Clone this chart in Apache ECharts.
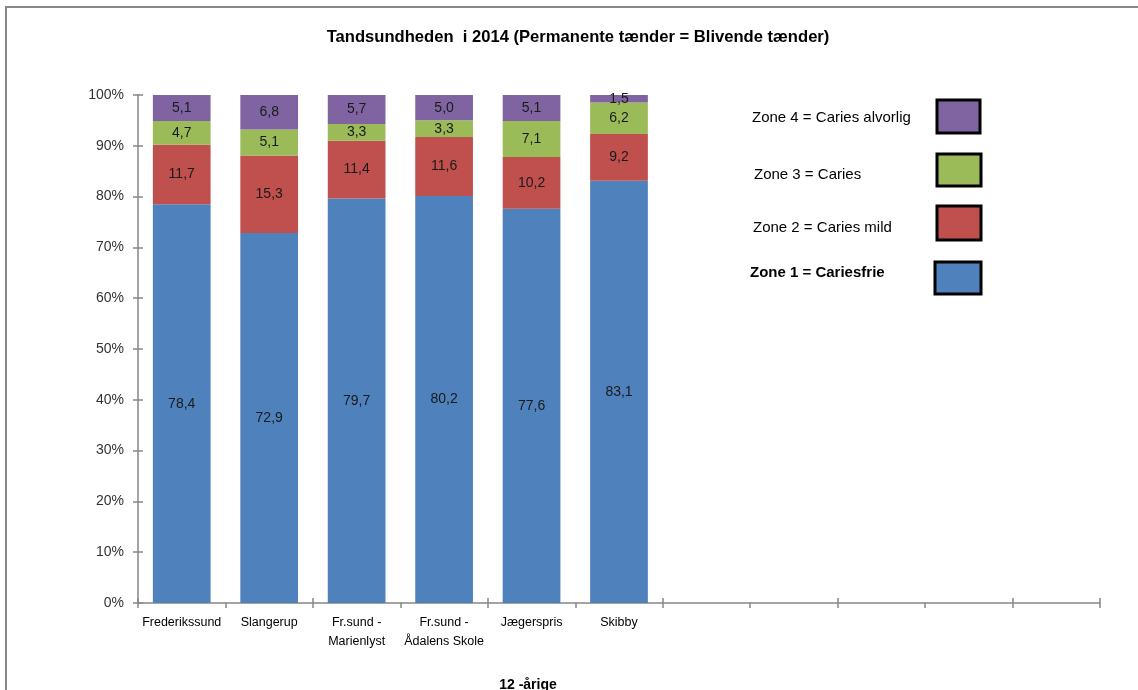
<!DOCTYPE html>
<html>
<head>
<meta charset="utf-8">
<script src="https://cdn.jsdelivr.net/npm/echarts@6/dist/echarts.min.js"></script>
<style>
html,body{margin:0;padding:0;background:#fff;overflow:hidden;}
#chart{width:1138px;height:690px;}
</style>
</head>
<body>
<div id="chart"></div>
<script>
// ---- data ----
var categories = ['Frederikssund', 'Slangerup', 'Fr.sund -\nMarienlyst', 'Fr.sund -\nÅdalens Skole', 'Jægerspris', 'Skibby', '', '', '', '', ''];
var zone1 = [78.4, 72.9, 79.7, 80.2, 77.6, 83.1];
var zone2 = [11.7, 15.3, 11.4, 11.6, 10.2, 9.2];
var zone3 = [4.7, 5.1, 3.3, 3.3, 7.1, 6.2];
var zone4 = [5.1, 6.8, 5.7, 5.0, 5.1, 1.5];
var seriesNames = ['Zone 1 = Cariesfrie', 'Zone 2 = Caries mild', 'Zone 3 = Caries', 'Zone 4 = Caries alvorlig'];
var colors = ['#4F81BD', '#C0504D', '#9BBB59', '#8064A2'];
var yTicks = [0, 10, 20, 30, 40, 50, 60, 70, 80, 90, 100];

var FONT = '"Liberation Sans", Arial, sans-serif';
var zones = [zone1, zone2, zone3, zone4];
var sums = zone1.map(function (v, i) { return zone1[i] + zone2[i] + zone3[i] + zone4[i]; });

var series = zones.map(function (arr, k) {
  return {
    name: seriesNames[k],
    type: 'bar',
    stack: 'total',
    barCategoryGap: '34%',
    itemStyle: { color: colors[k] },
    labelLayout: { hideOverlap: false },
    label: {
      show: true,
      position: 'inside',
      color: '#1a1a1a',
      fontFamily: FONT,
      fontSize: 14,
      overflow: 'none',
      formatter: function (p) { return arr[p.dataIndex].toFixed(1).replace('.', ','); }
    },
    data: arr.map(function (v, i) { return v / sums[i] * 100; })
  };
});

// legend drawn as graphic (text left, swatch right), top item = Zone 4
var legendText = [[752, 118], [754, 175], [753, 228], [750, 273]];
var legendBox = [[937, 100, 43, 33], [937, 154, 44, 32], [937, 206, 44, 34], [935, 262, 46, 32]];
var legendGraphic = [];
[3, 2, 1, 0].forEach(function (k, j) {
  legendGraphic.push({
    type: 'text', silent: true,
    style: { x: legendText[j][0], y: legendText[j][1], text: seriesNames[k], font: (k === 0 ? 'bold ' : '') + '15px ' + FONT, fill: '#000', textVerticalAlign: 'middle', verticalAlign: 'middle' }
  });
  legendGraphic.push({
    type: 'rect', silent: true,
    shape: { x: legendBox[j][0], y: legendBox[j][1], width: legendBox[j][2], height: legendBox[j][3] },
    style: { fill: colors[k], stroke: '#000', lineWidth: 3 }
  });
});

var chart = echarts.init(document.getElementById('chart'), null, { renderer: 'canvas' });
chart.setOption({
  animation: false,
  backgroundColor: '#fff',
  title: {
    text: 'Tandsundheden  i 2014 (Permanente tænder = Blivende tænder)',
    left: 573, top: 24, textAlign: 'center',
    textStyle: { fontFamily: FONT, fontSize: 16.6, fontWeight: 'bold', color: '#000' }
  },
  grid: { left: 138, right: 38, top: 95, bottom: 87, containLabel: false, outerBoundsMode: 'none' },
  xAxis: [{
    type: 'category',
    data: categories,
    name: '12 -årige',
    nameLocation: 'middle',
    nameGap: 75,
    nameTextStyle: { fontFamily: FONT, fontSize: 14, fontWeight: 'bold', color: '#000', padding: [0, 0, 0, -182] },
    axisLine: { lineStyle: { color: '#868686', width: 1.5 } },
    axisTick: { show: true, length: 5, lineStyle: { color: '#868686', width: 1.5 } },
    axisLabel: { fontFamily: FONT, fontSize: 12.5, color: '#000', margin: 10, interval: 0, lineHeight: 19 },
    splitLine: { show: false }
  }, {
    type: 'category',
    data: categories,
    position: 'bottom',
    axisLine: { show: false },
    axisTick: { show: true, inside: true, length: 5, lineStyle: { color: '#868686', width: 1.5 } },
    axisLabel: { show: false },
    splitLine: { show: false }
  }],
  yAxis: [{
    type: 'value',
    min: 0, max: 100, interval: 10,
    axisLine: { show: true, lineStyle: { color: '#868686', width: 1.5 } },
    axisTick: { show: true, length: 5, lineStyle: { color: '#868686', width: 1.5 } },
    axisLabel: { fontFamily: FONT, fontSize: 14, color: '#333', margin: 14, formatter: function (v) { return yTicks.indexOf(v) >= 0 ? v + '%' : ''; } },
    splitLine: { show: false }
  }, {
    type: 'value',
    min: 0, max: 100, interval: 10,
    position: 'left',
    axisLine: { show: false },
    axisTick: { show: true, inside: true, length: 5, lineStyle: { color: '#868686', width: 1.5 } },
    axisLabel: { show: false },
    splitLine: { show: false }
  }],
  graphic: [{
    type: 'rect',
    shape: { x: 6, y: 7, width: 1200, height: 800 },
    style: { fill: 'none', stroke: '#878787', lineWidth: 2 },
    silent: true
  }].concat(legendGraphic),
  series: series
});
</script>
</body>
</html>
